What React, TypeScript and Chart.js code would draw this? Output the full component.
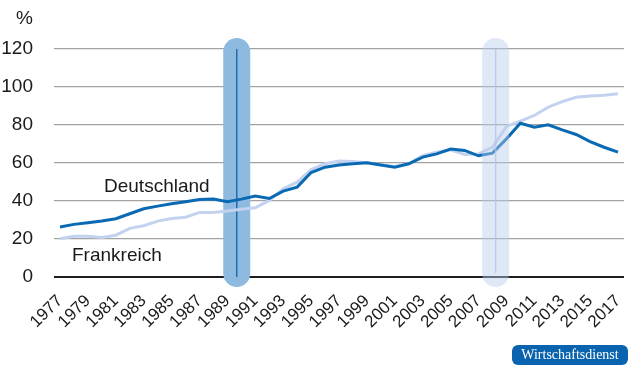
import React, { useEffect, useRef } from "react";
import { Chart, registerables } from "chart.js";

Chart.register(...registerables);

const years: number[] = Array.from({ length: 41 }, (_, i) => 1977 + i);
const tickYears: number[] = Array.from({ length: 21 }, (_, i) => 1977 + i * 2);
const yTicks: number[] = [0, 20, 40, 60, 80, 100, 120];

const deutschland: number[] = [
  26.3, 27.7, 28.6, 29.5, 30.7, 33.3, 35.9, 37.3, 38.5, 39.6, 40.8, 41.0, 39.6, 41.0, 42.6, 41.3,
  45.2, 47.3, 55.0, 57.8, 58.9, 59.6, 60.1, 58.9, 57.8, 59.6, 63.1, 64.8, 67.3, 66.6, 63.8, 65.2,
  72.7, 80.9, 78.8, 80.1, 77.4, 75.0, 71.3, 68.3, 65.7,
];
const frankreich: number[] = [
  20.1, 21.4, 21.4, 20.8, 22.0, 25.6, 27.0, 29.4, 30.8, 31.5, 34.0, 34.0, 34.7, 35.7, 36.4, 40.3,
  46.4, 49.9, 56.5, 59.6, 61.0, 60.8, 60.1, 59.0, 58.2, 59.6, 63.9, 65.7, 66.9, 64.5, 64.8, 68.3,
  79.2, 82.0, 85.0, 89.4, 92.3, 94.6, 95.3, 95.7, 96.4,
];
const markerYears: number[] = [1989.67, 2008.23];

const FONT = "'Liberation Sans', Arial, Helvetica, sans-serif";

function roundedBar(ctx: CanvasRenderingContext2D, cx: number, top: number, bottom: number, w: number) {
  const r = w / 2;
  ctx.beginPath();
  ctx.moveTo(cx - r, top + r);
  ctx.arc(cx, top + r, r, Math.PI, 0);
  ctx.lineTo(cx + r, bottom - r);
  ctx.arc(cx, bottom - r, r, 0, Math.PI);
  ctx.closePath();
  ctx.fill();
}

const decorPlugin = {
  id: "decor",
  beforeDatasetsDraw(chart: any) {
    const ctx = chart.ctx as CanvasRenderingContext2D;
    const xs = chart.scales.x;
    const ys = chart.scales.y;
    const cx = xs.getPixelForValue(markerYears[0]);
    const top = ys.getPixelForValue(120);
    const bottom = ys.getPixelForValue(0);
    ctx.save();
    ctx.fillStyle = "#8dbade";
    roundedBar(ctx, cx, top - 11, bottom + 10, 27);
    ctx.strokeStyle = "#1f6db3";
    ctx.lineWidth = 1.5;
    ctx.beginPath();
    ctx.moveTo(cx, top);
    ctx.lineTo(cx, bottom);
    ctx.stroke();
    ctx.restore();
  },
  afterDatasetsDraw(chart: any) {
    const ctx = chart.ctx as CanvasRenderingContext2D;
    const xs = chart.scales.x;
    const ys = chart.scales.y;
    const cx = xs.getPixelForValue(markerYears[1]);
    const top = ys.getPixelForValue(120);
    const bottom = ys.getPixelForValue(0);
    ctx.save();
    ctx.fillStyle = "rgba(185, 204, 236, 0.45)";
    roundedBar(ctx, cx, top - 11, bottom + 10, 27);
    ctx.strokeStyle = "rgba(180, 198, 228, 0.8)";
    ctx.lineWidth = 1.5;
    ctx.beginPath();
    ctx.moveTo(cx, top);
    ctx.lineTo(cx, bottom - 4);
    ctx.stroke();

    // annotations
    ctx.fillStyle = "#1a1a1a";
    ctx.font = `19px ${FONT}`;
    ctx.textBaseline = "middle";
    ctx.textAlign = "left";
    ctx.fillText("Deutschland", 104, 187);
    ctx.fillText("Frankreich", 72, 256);
    ctx.textAlign = "right";
    ctx.fillText("%", 33, 19);

    // badge
    ctx.fillStyle = "#0a63ae";
    const bx = 512, by = 345, bw = 116, bh = 20, br = 6;
    ctx.beginPath();
    ctx.moveTo(bx + br, by);
    ctx.arcTo(bx + bw, by, bx + bw, by + bh, br);
    ctx.arcTo(bx + bw, by + bh, bx, by + bh, br);
    ctx.arcTo(bx, by + bh, bx, by, br);
    ctx.arcTo(bx, by, bx + bw, by, br);
    ctx.closePath();
    ctx.fill();
    ctx.fillStyle = "#ffffff";
    ctx.font = `14px 'Liberation Serif', 'Times New Roman', serif`;
    ctx.textAlign = "center";
    ctx.fillText("Wirtschaftsdienst", bx + bw / 2, by + bh / 2 + 0.5);
    ctx.restore();
  },
};

export default function App() {
  const ref = useRef<HTMLCanvasElement>(null);
  useEffect(() => {
    document.body.style.margin = "0";
    const chart = new Chart(ref.current as HTMLCanvasElement, {
      type: "line",
      data: {
        labels: years,
        datasets: [
          {
            label: "Deutschland",
            data: years.map((y, i) => ({ x: y, y: deutschland[i] })),
            borderColor: "#0a69b3",
            borderWidth: 3,
            pointRadius: 0,
            tension: 0,
            fill: false,
          },
          {
            label: "Frankreich",
            data: years.map((y, i) => ({ x: y, y: frankreich[i] })),
            borderColor: "#c3d3ef",
            borderWidth: 3,
            pointRadius: 0,
            tension: 0,
            fill: false,
          },
        ],
      },
      options: {
        animation: false,
        responsive: false,
        maintainAspectRatio: false,
        layout: { padding: { top: 49, right: 6, left: 0, bottom: 0 } },
        plugins: { legend: { display: false }, tooltip: { enabled: false } },
        scales: {
          x: {
            type: "linear",
            min: 1976.57,
            max: 2017.43,
            afterBuildTicks: (scale: any) => {
              scale.ticks = tickYears.map((v) => ({ value: v }));
            },
            afterFit: (scale: any) => {
              scale.height = 95;
              scale.paddingLeft = 0;
              scale.paddingRight = 0;
            },
            grid: { display: false, drawTicks: false },
            border: { display: false },
            ticks: {
              autoSkip: false,
              minRotation: 45,
              maxRotation: 45,
              padding: 14,
              color: "#1a1a1a",
              font: { family: FONT, size: 17 },
              callback: (v: any) => String(v),
            },
          },
          y: {
            min: 0,
            max: 120,
            afterBuildTicks: (scale: any) => {
              scale.ticks = yTicks.map((v) => ({ value: v }));
            },
            afterFit: (scale: any) => {
              scale.width = 54;
              scale.paddingTop = 0;
              scale.paddingBottom = 0;
            },
            border: { display: false },
            grid: {
              drawTicks: false,
              color: (c: any) => (c.tick && c.tick.value === 0 ? "#1e1e1e" : "#a3a3a3"),
              lineWidth: (c: any) => (c.tick && c.tick.value === 0 ? 2 : 1.2),
            },
            ticks: {
              padding: 21,
              color: "#1a1a1a",
              font: { family: FONT, size: 19 },
            },
          },
        },
      },
      plugins: [decorPlugin],
    });
    return () => chart.destroy();
  }, []);
  return (
    <div style={{ width: 630, height: 372, background: "#fff" }}>
      <canvas ref={ref} width={630} height={372} style={{ display: "block" }} />
    </div>
  );
}
